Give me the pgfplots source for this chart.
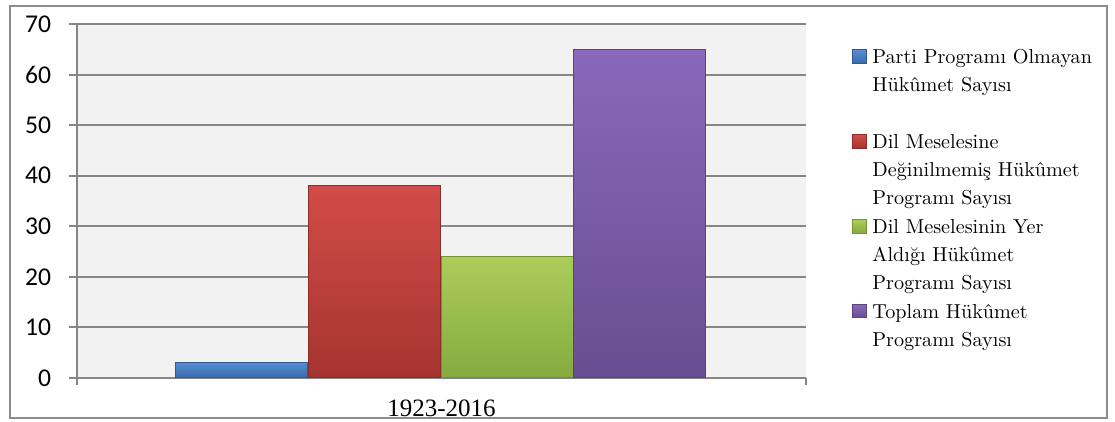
\documentclass[border=0pt]{standalone}
\usepackage{fontspec}
\usepackage{pgfplots}
\pgfplotsset{compat=1.18}
\newfontfamily\carlito{Carlito}
\newfontfamily\libser{Liberation Serif}
\definecolor{gridgray}{RGB}{134,134,134}
\definecolor{framegray}{RGB}{140,140,140}
\definecolor{bggray}{RGB}{242,242,242}
\definecolor{blueT}{RGB}{84,141,212}
\definecolor{blueB}{RGB}{58,106,170}
\definecolor{blueD}{RGB}{50,90,145}
\definecolor{redT}{RGB}{210,76,72}
\definecolor{redB}{RGB}{165,52,48}
\definecolor{redD}{RGB}{140,45,42}
\definecolor{greenT}{RGB}{170,205,90}
\definecolor{greenB}{RGB}{135,170,65}
\definecolor{greenD}{RGB}{115,145,55}
\definecolor{purpleT}{RGB}{138,104,186}
\definecolor{purpleB}{RGB}{104,78,145}
\definecolor{purpleD}{RGB}{90,68,125}
\pgfplotsset{legsq/.style={legend image code/.code={\path[##1] (0pt,0.2pt) rectangle (7pt,6.9pt);}}}
\begin{document}
\begin{tikzpicture}
\useasboundingbox (0,0) rectangle (557.5pt,211pt);
\begin{axis}[
  at={(38.5pt,22pt)}, anchor=south west,
  scale only axis, width=364.5pt, height=177pt,
  xmin=-1, xmax=1, ymin=0, ymax=70,
  ytick={0,10,...,70},
  xtick={-1,1}, xticklabels={},
  extra x ticks={0}, extra x tick labels={1923-2016},
  extra x tick style={major tick length=0pt, grid=none,
    xticklabel style={font=\libser\fontsize{12.5}{14}\selectfont, anchor=base, inner sep=0pt, yshift=-19.5pt}},
  axis x line*=bottom, axis y line*=left,
  axis line style={-, draw=gridgray, line width=1pt},
  tick style={draw=gridgray, line width=1pt},
  major tick length=3.75pt, tick align=outside,
  ymajorgrids, grid style={draw=gridgray, line width=1pt},
  axis background/.style={fill=bggray},
  yticklabel style={font=\carlito\fontsize{12.8}{14}\selectfont, anchor=east, inner sep=0pt, xshift=-9pt},
  /pgf/number format/assume math mode=true,
  legend style={at={(1.0631,0.92938)}, anchor=north west, draw=none, fill=none,
    inner sep=0pt, column sep=2.5pt, row sep=0pt,
    font=\fontsize{10.1}{14}\selectfont,
    nodes={inner sep=0pt, text height=7pt, text depth=35.3pt},
    cells={anchor=base west}},
]
\addplot[ybar, bar width=66pt, bar shift=-99.75pt, top color=blueT, bottom color=blueB, draw=blueD, line width=0.5pt, legsq] coordinates {(0,3)};
\addlegendentry{\begin{tabular}[t]{@{}l@{}}Parti Programı Olmayan\\Hükûmet Sayısı\end{tabular}}
\addplot[ybar, bar width=66pt, bar shift=-33.4pt, top color=redT, bottom color=redB, draw=redD, line width=0.5pt, legsq] coordinates {(0,38)};
\addlegendentry{\begin{tabular}[t]{@{}l@{}}Dil Meselesine\\Değinilmemiş Hükûmet\\Programı Sayısı\end{tabular}}
\addplot[ybar, bar width=66pt, bar shift=32.75pt, top color=greenT, bottom color=greenB, draw=greenD, line width=0.5pt, legsq] coordinates {(0,24)};
\addlegendentry{\begin{tabular}[t]{@{}l@{}}Dil Meselesinin Yer\\Aldığı Hükûmet\\Programı Sayısı\end{tabular}}
\addplot[ybar, bar width=66pt, bar shift=99pt, top color=purpleT, bottom color=purpleB, draw=purpleD, line width=0.5pt, legsq] coordinates {(0,65)};
\addlegendentry{\begin{tabular}[t]{@{}l@{}}Toplam Hükûmet\\Programı Sayısı\end{tabular}}
\end{axis}
\draw[framegray, line width=1pt] (5pt,1.75pt) rectangle (553.5pt,207.75pt);
\end{tikzpicture}
\end{document}
